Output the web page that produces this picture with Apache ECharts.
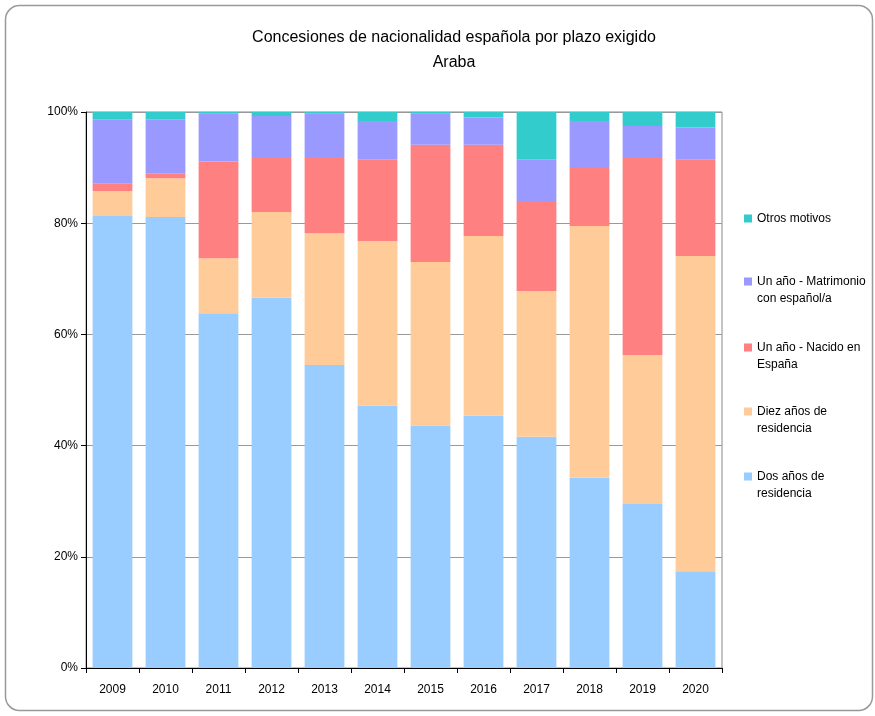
<!DOCTYPE html>
<html><head><meta charset="utf-8">
<script src="https://cdn.jsdelivr.net/npm/echarts@6/dist/echarts.min.js"></script>
<style>html,body{margin:0;padding:0;background:#fff}#c{width:875px;height:716px}</style>
</head><body><div id="c"></div>
<script>
const years = ['2009','2010','2011','2012','2013','2014','2015','2016','2017','2018','2019','2020'];
const dosAnos = [81.3, 81.1, 63.8, 66.6, 54.5, 47.2, 43.6, 45.4, 41.6, 34.2, 29.5, 17.4];
const diezAnos = [4.5, 7.0, 9.9, 15.4, 23.7, 29.6, 29.4, 32.3, 26.2, 45.3, 26.8, 56.7];
const nacido = [1.4, 0.9, 17.4, 9.9, 13.7, 14.7, 21.1, 16.4, 16.2, 10.6, 35.6, 17.3];
const matrimonio = [11.5, 9.7, 8.6, 7.4, 7.8, 6.9, 5.6, 4.9, 7.5, 8.3, 5.6, 5.8];
const otros = [1.3, 1.3, 0.3, 0.7, 0.3, 1.6, 0.3, 1.0, 8.5, 1.6, 2.5, 2.8];
const yTicks = [0, 20, 40, 60, 80, 100];

const names = ['Dos años de\nresidencia','Diez años de\nresidencia','Un año - Nacido en\nEspaña','Un año - Matrimonio\ncon español/a','Otros motivos'];
const colors = ['#99CCFF','#FFCC99','#FF8080','#9999FF','#33CCCC'];
const dataSets = [dosAnos, diezAnos, nacido, matrimonio, otros];
const legendTops = [463, 398, 334, 268, 205];
const font = 'Liberation Sans, Arial, sans-serif';
const topIcon = 'path://M0,0h8v8h-8zM0,24.99h0.01v0.01h-0.01z';

const chart = echarts.init(document.getElementById('c'));
chart.setOption({
  animation: false,
  backgroundColor: '#fff',
  textStyle: {fontFamily: font},
  graphic: [{type:'rect', shape:{x:5.5,y:5.5,width:867,height:705,r:14}, style:{fill:'none', stroke:'#999', lineWidth:1.5}, silent:true, z:-1}],
  title: {
    text: 'Concesiones de nacionalidad española por plazo exigido\nAraba',
    left: 449, top: 20, textAlign: 'center',
    textStyle: {fontFamily: font, fontSize: 16, fontWeight: 'normal', color: '#000', lineHeight: 25}
  },
  legend: names.map((n, i) => {
    const multi = n.indexOf('\n') >= 0;
    return {
      data: [n], orient: 'vertical', left: 739, top: legendTops[i],
      icon: multi ? topIcon : 'rect', itemWidth: 8, itemHeight: multi ? 25 : 8, itemGap: 0, selectedMode: false,
      textStyle: {fontFamily: font, fontSize: 12, color: '#000', lineHeight: 17}
    };
  }),
  grid: {left: 86, top: 112, width: 636, height: 556, show: true, borderColor: '#888', borderWidth: 1, containLabel: false},
  xAxis: {
    type: 'category', data: years,
    axisLine: {lineStyle: {color: '#000', width: 1}},
    axisTick: {show: true, length: 5, lineStyle: {color: '#000'}},
    axisLabel: {fontFamily: font, fontSize: 12, color: '#000', margin: 16}
  },
  yAxis: {
    type: 'value', min: 0, max: 100, interval: 20,
    axisLine: {show: true, lineStyle: {color: '#000', width: 1}},
    axisTick: {show: true, length: 5, lineStyle: {color: '#000'}},
    splitLine: {lineStyle: {color: '#999', width: 1}},
    axisLabel: {fontFamily: font, fontSize: 12, color: '#000', margin: 8,
      formatter: v => yTicks.includes(v) ? v + '%' : ''}
  },
  series: dataSets.map((d, i) => ({
    name: names[i], type: 'bar', stack: 'total', data: d,
    barCategoryGap: '25%', itemStyle: {color: colors[i]}
  }))
});
</script></body></html>
